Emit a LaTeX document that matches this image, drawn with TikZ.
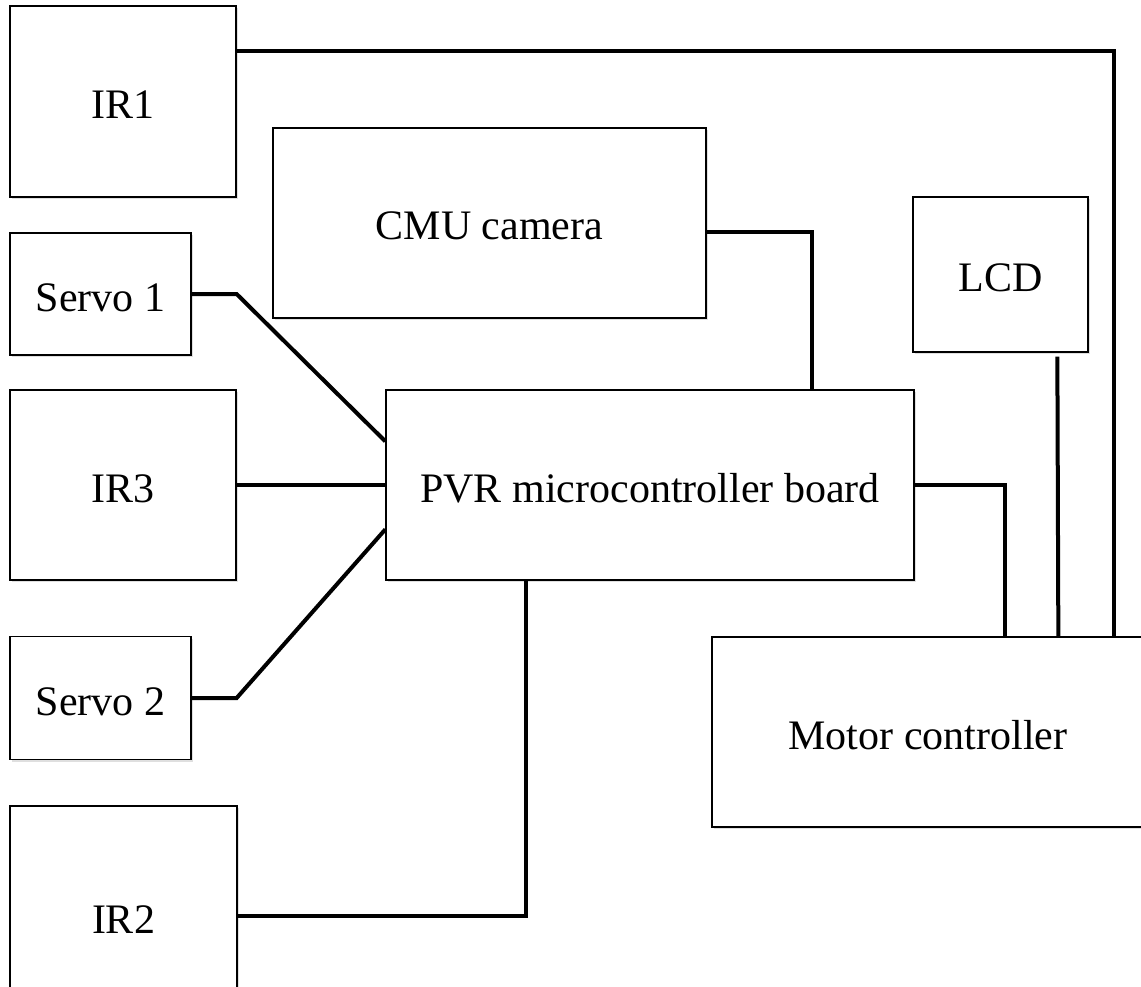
\documentclass[tikz,border=0pt]{standalone}
\usepackage{fontspec}
\setmainfont{Liberation Serif}
\usetikzlibrary{calc,shadows}
\begin{document}
\begin{tikzpicture}[x=1pt,y=-1pt,
  blk/.style={draw=black, line width=1.3pt, fill=white, rectangle, inner sep=0pt,
    font=\fontsize{42}{50}\selectfont, text height=34pt, text depth=0pt,
    drop shadow={shadow xshift=1.5pt, shadow yshift=-2pt, opacity=0.25, fill=gray}},
  wire/.style={line width=4pt, line join=miter}]
\useasboundingbox (0,0) rectangle (1141,987);

% sensor and actuator blocks
\node[blk, minimum width=226pt, minimum height=191pt] (ir1) at (123,101.5) {IR1};
\node[blk, minimum width=181pt, minimum height=122pt] (servo1) at (100.5,294) {Servo 1};
\node[blk, minimum width=226pt, minimum height=190pt] (ir3) at (123,485) {IR3};
\node[blk, minimum width=181pt, minimum height=123pt] (servo2) at (100.5,698) {Servo 2};
\node[blk, minimum width=227pt, minimum height=220pt] (ir2) at (123.5,916) {IR2};
\node[blk, minimum width=433pt, minimum height=190pt] (cmu) at (489.5,223) {CMU camera};
\node[blk, minimum width=175pt, minimum height=155pt] (lcd) at (1000.5,274.5) {LCD};

% main board and motor controller
\node[blk, minimum width=528pt, minimum height=190pt] (pvr) at (650,485) {PVR microcontroller board};
\node[blk, minimum width=432pt, minimum height=190pt] (motor) at (928,732) {Motor controller};

% wiring
\draw[wire] ($(ir1.north east)+(0,46)$) -| ($(motor.north west)+(403,0)$);
\draw[wire] (servo1.east) -- ++(45,0) -- ($(pvr.north west)+(0,52)$);
\draw[wire] (ir3.east) -- (pvr.west);
\draw[wire] (servo2.east) -- ++(45,0) -- ($(pvr.north west)+(0,140)$);
\draw[wire] (ir2.east) -| ($(pvr.south west)+(141,0)$);
\draw[wire] ($(cmu.north east)+(0,105)$) -| ($(pvr.north west)+(427,0)$);
\draw[wire] (pvr.east) -| ($(motor.north west)+(294,0)$);
\draw[wire] ($(lcd.south west)+(145,4)$) -- ($(motor.north west)+(347,0)$);
\end{tikzpicture}
\end{document}
